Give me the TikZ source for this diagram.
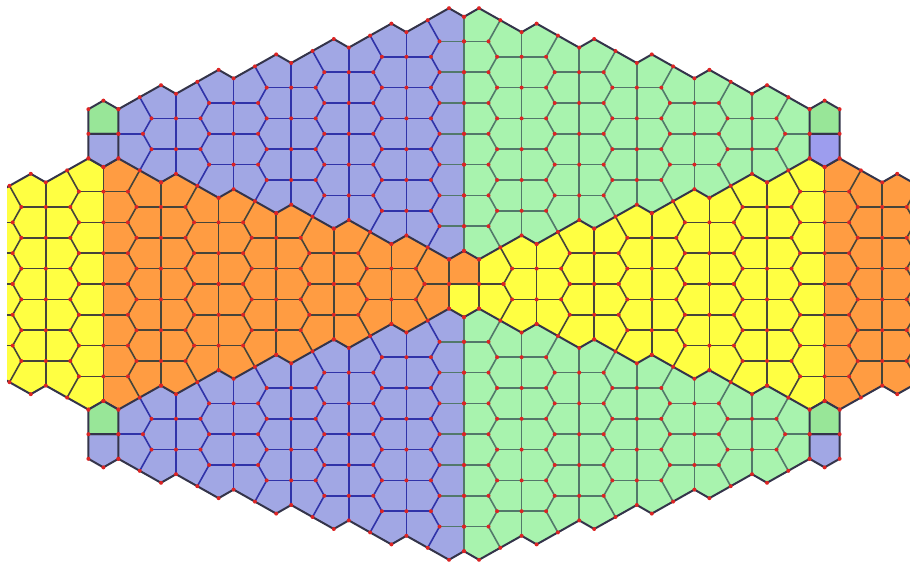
\documentclass[tikz,border=0pt]{standalone}
\usepackage{xcolor}
\definecolor{cellblue}{HTML}{A1A7E4}
\definecolor{cellgreen}{HTML}{A8F3AE}
\definecolor{cellorange}{HTML}{FF9C42}
\definecolor{cellyellow}{HTML}{FFFF42}
\definecolor{cornergreen}{HTML}{98E698}
\definecolor{cornerpurple}{HTML}{9D9DEE}
\definecolor{edgeblue}{HTML}{3033A8}
\definecolor{edgegreen}{HTML}{52786A}
\definecolor{edgewarm}{HTML}{45443A}
\definecolor{border}{HTML}{34344A}
\definecolor{vertexred}{HTML}{DC2424}
\tikzset{edge/.style={line width=.8pt, line join=round}, rim/.style={line width=1pt, draw=border, line join=round}, vtx/.style={fill=vertexred}}

\newcommand\quarterfill[3]{%
\fill[#1] (0,-267.2) \foreach \n in {1,...,6}{ -- ({-57.6*\n+42.6},{-291.2+15.4*\n}) -- ({-57.6*\n},{-267.2+15.4*\n}) } -- (-345.6,-125.6) \foreach \n in {5,4,...,0}{ -- ({-15-57.6*\n},{-24.6-15.4*\n}) -- ({-57.6*\n},{-33.2-15.4*\n}) } -- cycle;
\fill[#2] (-360.6,-117) \foreach \n in {6,5,...,1}{ -- ({-15-57.6*\n},{-24.6-15.4*\n}) -- ({-57.6*\n},{-33.2-15.4*\n}) } -- (-15,-24.6) -- (-15,0) -- (-360.6,0) -- cycle;
\fill[#3] (-360.6,-117) \foreach \n in {7,8,9}{ -- ({27.6-57.6*\n},{-233.4+15.4*\n}) -- ({-15-57.6*\n},{-209.4+15.4*\n}) } -- (-533.4,0) -- (-360.6,0) -- cycle;}

\newcommand\quarteredges[2]{%
\foreach \n in {0,...,6}{
 \pgfmathtruncatemacro\km{6-\n}
 \pgfmathsetmacro\lo{\n==6 ? 0 : 24.5}
 \draw[edge,#1] ({-57.6*\n},{-267.2+15.4*\n}) -- ({-57.6*\n},{-33.2-15.4*\n});
 \foreach \q in {0,...,\km}{\draw[edge,#1] ({-57.6*\n-\lo},{-242.6+15.4*(\n+2*\q)}) -- ({-57.6*\n+24.5},{-242.6+15.4*(\n+2*\q)});}
}
\foreach \n in {1,...,6}{
 \pgfmathtruncatemacro\kz{14-2*\n}
 \draw[edge,#1] ({-57.6*\n+21.3},{-279.2+15.4*\n}) \foreach \q in {0,...,\kz}{ -- ({-57.6*\n+33.1-8.6*mod(\q,2)},{-242.6+15.4*(\n-1+\q)}) } -- ({-57.6*\n+21.3},{-21.2-15.4*\n});
}
\foreach \n in {0,...,9}{
 \pgfmathtruncatemacro\mm{min(\n,12-\n)}
 \pgfmathtruncatemacro\kh{floor(\mm/2)}
 \draw[edge,#2] ({-15-57.6*\n},{-24.6-15.4*\mm}) -- ({-15-57.6*\n},0);
 \foreach \q in {0,...,\kh}{\draw[edge,#2] ({-39.5-57.6*\n},{15.4*(2*\q-\mm)}) -- ({9.5-57.6*\n},{15.4*(2*\q-\mm)});}
}
\foreach \n in {1,...,9}{
 \pgfmathtruncatemacro\mz{min(\n,13-\n)}
 \ifnum\n<7 \pgfmathsetmacro\tu{-57.6*\n+21.3}\pgfmathsetmacro\tv{-21.2-15.4*\n}\else\pgfmathsetmacro\tu{-57.6*\n+6.3}\pgfmathsetmacro\tv{-221.4+15.4*\n}\fi
 \draw[edge,#2] (\tu,\tv) \foreach \q in {0,...,\mz}{ -- ({-15-57.6*\n+24.5+8.6*mod(\q+\mz+\n,2)},{15.4*(\q-\mz)}) };
}
\draw[rim] (-345.6,-174.8) \foreach \n in {6,5,...,1}{ -- ({-57.6*\n},{-267.2+15.4*\n}) -- ({-57.6*\n+42.6},{-291.2+15.4*\n}) } -- (0,-267.2);
\draw[rim] (-360.6,-117) \foreach \n in {6,5,...,0}{ -- ({-15-57.6*\n},{-24.6-15.4*\n}) -- ({-57.6*\n},{-33.2-15.4*\n}) };
\draw[rim] (-360.6,-117) \foreach \n in {7,8,9}{ -- ({27.6-57.6*\n},{-233.4+15.4*\n}) -- ({-15-57.6*\n},{-209.4+15.4*\n}) };}

\newcommand\quarterdots{%
\foreach \n in {0,...,6}{
 \pgfmathtruncatemacro\km{6-\n}
 \fill[vtx] ({-57.6*\n},{-267.2+15.4*\n}) circle[radius=1pt] ({-57.6*\n},{-33.2-15.4*\n}) circle[radius=1pt] ({-15-57.6*\n},{-24.6-15.4*\n}) circle[radius=1pt];
 \foreach \q in {0,...,\km}{\fill[vtx] ({-57.6*\n},{-242.6+15.4*(\n+2*\q)}) circle[radius=1pt];}
}
\foreach \n in {1,...,6}{
 \pgfmathtruncatemacro\kz{14-2*\n}
 \fill[vtx] ({-57.6*\n+42.6},{-291.2+15.4*\n}) circle[radius=1pt] ({-57.6*\n+21.3},{-279.2+15.4*\n}) circle[radius=1pt] ({-57.6*\n+21.3},{-21.2-15.4*\n}) circle[radius=1pt];
 \foreach \q in {0,...,\kz}{\fill[vtx] ({-57.6*\n+33.1-8.6*mod(\q,2)},{-242.6+15.4*(\n-1+\q)}) circle[radius=1pt];}
}
\foreach \n in {0,...,9}{
 \pgfmathtruncatemacro\mm{min(\n,12-\n)}
 \pgfmathtruncatemacro\kh{floor(\mm/2)}
 \fill[vtx] ({-15-57.6*\n},{-24.6-15.4*\mm}) circle[radius=1pt];
 \foreach \q in {0,...,\kh}{\fill[vtx] ({-15-57.6*\n},{15.4*(2*\q-\mm)}) circle[radius=1pt];}
}
\foreach \n in {1,...,9}{
 \pgfmathtruncatemacro\mz{min(\n,13-\n)}
 \foreach \q in {0,...,\mz}{\fill[vtx] ({-15-57.6*\n+24.5+8.6*mod(\q+\mz+\n,2)},{15.4*(\q-\mz)}) circle[radius=1pt];}
}
\foreach \n in {7,8,9}{\fill[vtx] ({27.6-57.6*\n},{-233.4+15.4*\n}) circle[radius=1pt] ({-57.6*\n+6.3},{-221.4+15.4*\n}) circle[radius=1pt];}}

\newcommand\cornercell[4]{%
\begin{scope}[shift={(#1,0)}, yscale=#2]
\filldraw[fill=#3, rim] (-15,-174.8) -- (0,-183.4) -- (15,-174.8) -- (15,-150.2) -- (-15,-150.2) -- cycle;
\filldraw[fill=#4, rim] (-15,-150.2) -- (15,-150.2) -- (15,-125.6) -- (0,-117) -- (-15,-125.6) -- cycle;
\foreach \p in {(-15,-174.8),(0,-183.4),(15,-174.8),(15,-150.2),(-15,-150.2),(15,-125.6),(0,-117),(-15,-125.6)}{\fill[vtx] \p circle[radius=1pt];}
\end{scope}}

\begin{document}
\begin{tikzpicture}[x=.5pt,y=-.5pt]
\useasboundingbox (0,0) rectangle (910,565);
\clip (7,0) rectangle (910,565);
\begin{scope}[shift={(464,284)}]
\quarterfill{cellblue}{cellorange}{cellyellow}
\begin{scope}[yscale=-1]\quarterfill{cellblue}{cellorange}{cellyellow}\end{scope}
\begin{scope}[xscale=-1]\quarterfill{cellgreen}{cellyellow}{cellorange}\end{scope}
\begin{scope}[scale=-1]\quarterfill{cellgreen}{cellyellow}{cellorange}\end{scope}
\fill[cellorange] (-15,-24.6) -- (0,-33.2) -- (15,-24.6) -- (15,0) -- (-15,0) -- cycle;
\fill[cellyellow] (-15,0) -- (15,0) -- (15,24.6) -- (0,33.2) -- (-15,24.6) -- cycle;
\quarteredges{edgeblue}{edgewarm}
\begin{scope}[yscale=-1]\quarteredges{edgeblue}{edgewarm}\end{scope}
\begin{scope}[xscale=-1]\quarteredges{edgegreen}{edgewarm}\end{scope}
\begin{scope}[scale=-1]\quarteredges{edgegreen}{edgewarm}\end{scope}
\cornercell{-360.6}{1}{cornergreen}{cellblue}
\cornercell{-360.6}{-1}{cellblue}{cornergreen}
\cornercell{360.6}{1}{cornergreen}{cornerpurple}
\cornercell{360.6}{-1}{cellblue}{cornergreen}
\quarterdots
\begin{scope}[yscale=-1]\quarterdots\end{scope}
\begin{scope}[xscale=-1]\quarterdots\end{scope}
\begin{scope}[scale=-1]\quarterdots\end{scope}
\end{scope}
\end{tikzpicture}
\end{document}
